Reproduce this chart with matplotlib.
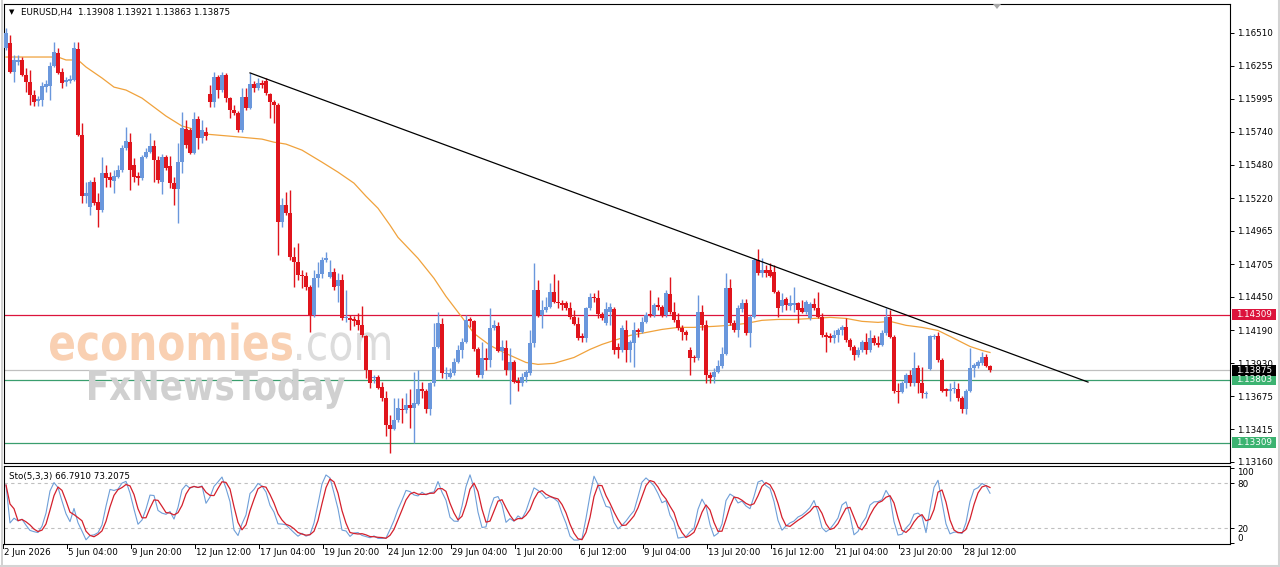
import numpy as np
import pandas as pd
import matplotlib
matplotlib.use("Agg")
import matplotlib.pyplot as plt
import matplotlib.transforms as mtrans
from matplotlib.textpath import TextPath
from matplotlib.patches import PathPatch, Rectangle, Polygon
from matplotlib.font_manager import FontProperties
from matplotlib.lines import Line2D

plt.rcParams['font.family'] = ['DejaVu Sans']

symbol = "EURUSD,H4"
last_ohlc = "1.13908 1.13921 1.13863 1.13875"
sto_label = "Sto(5,3,3) 66.7910 73.2075"

# H4 candles, 2 Jun 12:00 .. 29 Jul 12:00
opens = [
    1.16392, 1.16432, 1.16205, 1.16283, 1.16299, 1.16182, 1.16126, 1.16025, 1.15978, 1.15986,
    1.16087, 1.16095, 1.16252, 1.16354, 1.16205, 1.16126, 1.16134, 1.16142, 1.16385, 1.15712,
    1.15235, 1.15149, 1.15344, 1.15188, 1.15126, 1.15416, 1.15384, 1.15352, 1.15384, 1.15439,
    1.15610, 1.15657, 1.15478, 1.15393, 1.15376, 1.15540, 1.15579, 1.15626, 1.15517, 1.15344,
    1.15540, 1.15470, 1.15337, 1.15290, 1.15501, 1.15759, 1.15751, 1.15572, 1.15838, 1.15689,
    1.15735, 1.16033, 1.15970, 1.16166, 1.16064, 1.16182, 1.16001, 1.15908, 1.15885, 1.15751,
    1.16009, 1.15923, 1.16111, 1.16079, 1.16119, 1.16134, 1.16033, 1.15970, 1.15947, 1.15032,
    1.15165, 1.15103, 1.14758, 1.14719, 1.14618, 1.14610, 1.14523, 1.14305, 1.14594, 1.14626,
    1.14735, 1.14602, 1.14641, 1.14531, 1.14578, 1.14281, 1.14281, 1.14273, 1.14266, 1.14227,
    1.14140, 1.13875, 1.13812, 1.13820, 1.13749, 1.13663, 1.13445, 1.13421, 1.13484, 1.13577,
    1.13562, 1.13601, 1.13585, 1.13616, 1.13726, 1.13718, 1.13577, 1.13773, 1.14054, 1.14235,
    1.13844, 1.13820, 1.13851, 1.13937, 1.14031, 1.14094, 1.14273, 1.14258, 1.14039, 1.13836,
    1.13968, 1.13953, 1.14203, 1.14219, 1.14023, 1.14047, 1.13875, 1.13937, 1.13796, 1.13773,
    1.13820, 1.13851, 1.14086, 1.14500, 1.14305, 1.14344, 1.14367, 1.14484, 1.14406, 1.14398,
    1.14398, 1.14359, 1.14289, 1.14235, 1.14140, 1.14125, 1.14359, 1.14445, 1.14438, 1.14312,
    1.14242, 1.14328, 1.14352, 1.14054, 1.14031, 1.14187, 1.14031, 1.14086, 1.14187, 1.14171,
    1.14250, 1.14312, 1.14305, 1.14383, 1.14367, 1.14305, 1.14469, 1.14328, 1.14266, 1.14203,
    1.14171, 1.14031, 1.13976, 1.13968, 1.14328, 1.14227, 1.13836, 1.13820, 1.13859, 1.13906,
    1.14007, 1.14516, 1.14242, 1.14187, 1.14352, 1.14398, 1.14164, 1.14289, 1.14735, 1.14633,
    1.14657, 1.14657, 1.14641, 1.14484, 1.14375, 1.14430, 1.14375, 1.14383, 1.14398, 1.14359,
    1.14328, 1.14281, 1.14391, 1.14359, 1.14289, 1.14148, 1.14140, 1.14125, 1.14148, 1.14187,
    1.14211, 1.14109, 1.14054, 1.13992, 1.14031, 1.14094, 1.14031, 1.14125, 1.14086, 1.14070,
    1.14164, 1.14289, 1.14132, 1.13718, 1.13703, 1.13773, 1.13836, 1.13773, 1.13890, 1.13773,
    1.13687, 1.13883, 1.14132, 1.14140, 1.13953, 1.13733, 1.13718, 1.13726, 1.13733, 1.13656,
    1.13577, 1.13718, 1.13890, 1.13906, 1.13930, 1.13976, 1.13908,
]
highs = [
    1.16549, 1.16494, 1.16338, 1.16338, 1.16322, 1.16236, 1.16221, 1.16064, 1.16017, 1.16126,
    1.16142, 1.16283, 1.16439, 1.16392, 1.16236, 1.16166, 1.16182, 1.16439, 1.16439, 1.15807,
    1.15344, 1.15360, 1.15384, 1.15259, 1.15540, 1.15478, 1.15423, 1.15439, 1.15478, 1.15634,
    1.15775, 1.15728, 1.15532, 1.15423, 1.15556, 1.15610, 1.15728, 1.15673, 1.15548, 1.15564,
    1.15556, 1.15548, 1.15384, 1.15650, 1.15892, 1.15830, 1.15767, 1.15892, 1.15861, 1.15830,
    1.15775, 1.16103, 1.16205, 1.16182, 1.16205, 1.16198, 1.16009, 1.15947, 1.15900, 1.16079,
    1.16079, 1.16198, 1.16134, 1.16158, 1.16142, 1.16158, 1.16041, 1.15986, 1.15963, 1.15220,
    1.15266, 1.15282, 1.14836, 1.14868, 1.14657, 1.14641, 1.14539, 1.14657, 1.14719, 1.14758,
    1.14797, 1.14735, 1.14672, 1.14633, 1.14626, 1.14500, 1.14305, 1.14297, 1.14320, 1.14375,
    1.14148, 1.13875, 1.13836, 1.13836, 1.13781, 1.13718, 1.13523, 1.13663, 1.13656, 1.13663,
    1.13695, 1.13733, 1.13859, 1.13875, 1.13781, 1.13733, 1.13781, 1.14242, 1.14328, 1.14281,
    1.13898, 1.13890, 1.13968, 1.14070, 1.14125, 1.14305, 1.14289, 1.14266, 1.14054, 1.14094,
    1.14047, 1.14359, 1.14266, 1.14250, 1.14109, 1.14109, 1.14047, 1.13953, 1.13820, 1.13851,
    1.13875, 1.14187, 1.14712, 1.14578, 1.14422, 1.14445, 1.14555, 1.14626, 1.14578, 1.14422,
    1.14414, 1.14406, 1.14344, 1.14289, 1.14164, 1.14367, 1.14477, 1.14477, 1.14500, 1.14328,
    1.14406, 1.14398, 1.14367, 1.14086, 1.14227, 1.14266, 1.14109, 1.14250, 1.14203, 1.14289,
    1.14328, 1.14500, 1.14398, 1.14445, 1.14383, 1.14500, 1.14602, 1.14406, 1.14320, 1.14227,
    1.14187, 1.14054, 1.13992, 1.14461, 1.14383, 1.14266, 1.13859, 1.13890, 1.13953, 1.14054,
    1.14633, 1.14586, 1.14266, 1.14383, 1.14430, 1.14430, 1.14305, 1.14750, 1.14821, 1.14750,
    1.14696, 1.14712, 1.14696, 1.14500, 1.14477, 1.14445, 1.14461, 1.14523, 1.14406, 1.14422,
    1.14422, 1.14406, 1.14438, 1.14484, 1.14320, 1.14171, 1.14164, 1.14187, 1.14203, 1.14227,
    1.14281, 1.14125, 1.14070, 1.14054, 1.14109, 1.14164, 1.14187, 1.14148, 1.14140, 1.14187,
    1.14359, 1.14344, 1.14148, 1.13773, 1.13789, 1.13851, 1.13875, 1.14015, 1.13914, 1.13898,
    1.13718, 1.14148, 1.14156, 1.14171, 1.13968, 1.13741, 1.13773, 1.13796, 1.13773, 1.13679,
    1.13733, 1.14047, 1.13930, 1.13953, 1.14015, 1.14007, 1.13921,
]
lows = [
    1.16377, 1.16198, 1.16126, 1.16260, 1.16174, 1.16048, 1.15947, 1.15939, 1.15939, 1.15939,
    1.16048, 1.15986, 1.16244, 1.16190, 1.16079, 1.16095, 1.16119, 1.16134, 1.15704, 1.15181,
    1.15181, 1.15087, 1.15165, 1.14993, 1.15110, 1.15305, 1.15305, 1.15259, 1.15376, 1.15423,
    1.15595, 1.15282, 1.15344, 1.15321, 1.15360, 1.15532, 1.15572, 1.15344, 1.15337, 1.15251,
    1.15439, 1.15297, 1.15165, 1.15025, 1.15416, 1.15610, 1.15564, 1.15564, 1.15603, 1.15650,
    1.15673, 1.15931, 1.15931, 1.16001, 1.16048, 1.15970, 1.15845, 1.15869, 1.15735, 1.15735,
    1.15908, 1.15916, 1.16048, 1.16064, 1.16079, 1.16025, 1.15845, 1.15807, 1.14774, 1.14993,
    1.15087, 1.14735, 1.14523, 1.14578, 1.14516, 1.14500, 1.14171, 1.14289, 1.14523, 1.14594,
    1.14719, 1.14594, 1.14500, 1.14406, 1.14266, 1.14250, 1.14187, 1.14219, 1.14187, 1.14132,
    1.13812, 1.13741, 1.13773, 1.13733, 1.13640, 1.13366, 1.13233, 1.13413, 1.13476, 1.13461,
    1.13546, 1.13429, 1.13312, 1.13601, 1.13656, 1.13546, 1.13523, 1.13757, 1.14047, 1.13812,
    1.13804, 1.13812, 1.13836, 1.13930, 1.13968, 1.14086, 1.14211, 1.14023, 1.13820, 1.13812,
    1.13875, 1.13898, 1.14187, 1.14015, 1.13953, 1.13836, 1.13616, 1.13773, 1.13718, 1.13757,
    1.13781, 1.13836, 1.14054, 1.14289, 1.14203, 1.14328, 1.14359, 1.14398, 1.14359, 1.14344,
    1.14344, 1.14273, 1.14227, 1.14109, 1.14094, 1.14094, 1.14344, 1.14406, 1.14281, 1.14266,
    1.14227, 1.14227, 1.14007, 1.13968, 1.14015, 1.13937, 1.13937, 1.13898, 1.14132, 1.14164,
    1.14242, 1.14289, 1.14289, 1.14344, 1.14289, 1.14289, 1.14312, 1.14250, 1.14187, 1.14109,
    1.14109, 1.13836, 1.13937, 1.13953, 1.14187, 1.13773, 1.13773, 1.13773, 1.13851, 1.13890,
    1.13992, 1.14227, 1.14171, 1.14132, 1.14328, 1.14148, 1.14054, 1.14281, 1.14618, 1.14602,
    1.14602, 1.14602, 1.14477, 1.14289, 1.14328, 1.14344, 1.14344, 1.14328, 1.14242, 1.14320,
    1.14312, 1.14266, 1.14344, 1.14281, 1.14132, 1.14015, 1.14094, 1.14086, 1.14094, 1.14148,
    1.14094, 1.14031, 1.13953, 1.13976, 1.14015, 1.14007, 1.14015, 1.14070, 1.14054, 1.14062,
    1.14148, 1.14125, 1.13695, 1.13624, 1.13695, 1.13741, 1.13757, 1.13757, 1.13695, 1.13663,
    1.13663, 1.13875, 1.14117, 1.13937, 1.13703, 1.13679, 1.13640, 1.13695, 1.13640, 1.13546,
    1.13538, 1.13703, 1.13820, 1.13890, 1.13914, 1.13898, 1.13863,
]
closes = [
    1.16510, 1.16205, 1.16299, 1.16299, 1.16182, 1.16126, 1.16025, 1.15970, 1.15994, 1.16095,
    1.16111, 1.16252, 1.16361, 1.16198, 1.16119, 1.16142, 1.16151, 1.16392, 1.15712, 1.15235,
    1.15259, 1.15344, 1.15181, 1.15126, 1.15416, 1.15376, 1.15360, 1.15393, 1.15439, 1.15610,
    1.15665, 1.15439, 1.15384, 1.15376, 1.15540, 1.15579, 1.15626, 1.15517, 1.15360, 1.15540,
    1.15454, 1.15337, 1.15290, 1.15501, 1.15767, 1.15634, 1.15572, 1.15838, 1.15689, 1.15751,
    1.15704, 1.15970, 1.16166, 1.16064, 1.16182, 1.16001, 1.15908, 1.15885, 1.15751, 1.16009,
    1.15923, 1.16111, 1.16079, 1.16119, 1.16103, 1.16041, 1.15970, 1.15947, 1.15032, 1.15165,
    1.15103, 1.14758, 1.14719, 1.14618, 1.14610, 1.14523, 1.14305, 1.14594, 1.14626, 1.14735,
    1.14750, 1.14641, 1.14523, 1.14578, 1.14281, 1.14289, 1.14266, 1.14258, 1.14227, 1.14148,
    1.13875, 1.13773, 1.13820, 1.13741, 1.13663, 1.13445, 1.13421, 1.13484, 1.13585, 1.13562,
    1.13601, 1.13585, 1.13624, 1.13726, 1.13718, 1.13577, 1.13773, 1.14054, 1.14242, 1.13851,
    1.13851, 1.13851, 1.13937, 1.14031, 1.14094, 1.14266, 1.14258, 1.14039, 1.13836, 1.13968,
    1.13953, 1.14203, 1.14227, 1.14023, 1.14054, 1.13875, 1.13937, 1.13781, 1.13773, 1.13820,
    1.13859, 1.14086, 1.14500, 1.14305, 1.14344, 1.14367, 1.14484, 1.14406, 1.14398, 1.14383,
    1.14359, 1.14289, 1.14235, 1.14125, 1.14125, 1.14359, 1.14445, 1.14438, 1.14312, 1.14281,
    1.14352, 1.14367, 1.14031, 1.14031, 1.14203, 1.14031, 1.14094, 1.14187, 1.14171, 1.14250,
    1.14305, 1.14305, 1.14383, 1.14367, 1.14305, 1.14477, 1.14328, 1.14266, 1.14203, 1.14171,
    1.14148, 1.13968, 1.13968, 1.14328, 1.14227, 1.13836, 1.13812, 1.13859, 1.13906, 1.14007,
    1.14516, 1.14242, 1.14187, 1.14359, 1.14398, 1.14164, 1.14289, 1.14735, 1.14633, 1.14657,
    1.14633, 1.14610, 1.14484, 1.14359, 1.14422, 1.14383, 1.14398, 1.14398, 1.14344, 1.14328,
    1.14406, 1.14391, 1.14359, 1.14289, 1.14148, 1.14132, 1.14125, 1.14148, 1.14187, 1.14211,
    1.14109, 1.14054, 1.13992, 1.14031, 1.14094, 1.14031, 1.14125, 1.14086, 1.14070, 1.14164,
    1.14289, 1.14132, 1.13718, 1.13703, 1.13773, 1.13836, 1.13773, 1.13890, 1.13773, 1.13695,
    1.13695, 1.14140, 1.14140, 1.13953, 1.13718, 1.13718, 1.13733, 1.13733, 1.13656, 1.13577,
    1.13718, 1.13890, 1.13914, 1.13937, 1.13976, 1.13906, 1.13875,
]

# moving average (orange), sampled along the curve: bar index / value
ma_idx = [0, 13, 15, 18, 20, 24, 27, 30, 34, 37, 40, 44, 46, 50, 56, 64, 67, 70, 74, 79,
          83, 87, 90, 93, 96, 98, 103, 107, 110, 114, 117, 121, 125, 130, 133, 137, 142, 146,
          149, 152, 156, 160, 164, 168, 172, 177, 181, 185, 189, 193, 197, 202, 206, 210, 214,
          218, 221, 225, 229, 233, 237, 241, 244, 246]
ma_val = [1.16322, 1.16322, 1.16299, 1.16299, 1.16244, 1.16158, 1.16087, 1.16064, 1.16001,
          1.15931, 1.15861, 1.15783, 1.15767, 1.15720, 1.15704, 1.15681, 1.15657, 1.15642,
          1.15595, 1.15501, 1.15423, 1.15337, 1.15235, 1.15141, 1.15009, 1.14914, 1.14750,
          1.14594, 1.14453, 1.14289, 1.14164, 1.14070, 1.14007, 1.13937, 1.13922, 1.13930,
          1.13976, 1.14039, 1.14078, 1.14109, 1.14148, 1.14171, 1.14195, 1.14211, 1.14211,
          1.14219, 1.14227, 1.14242, 1.14266, 1.14273, 1.14273, 1.14281, 1.14289, 1.14281,
          1.14258, 1.14250, 1.14258, 1.14227, 1.14211, 1.14187, 1.14125, 1.14062, 1.14031,
          1.14015]

trend_idx = [61, 270.5]
trend_val = [1.16198, 1.13784]

resistance = 1.14309
bid = 1.13875
support1 = 1.13803
support2 = 1.13309

price_ticks = [1.16510, 1.16255, 1.15995, 1.15740, 1.15480, 1.15220, 1.14965, 1.14705,
               1.14450, 1.14190, 1.13930, 1.13675, 1.13415, 1.13160]
time_idx = list(range(0, 241, 16))
time_labels = ["2 Jun 2026", "5 Jun 04:00", "9 Jun 20:00", "12 Jun 12:00", "17 Jun 04:00",
               "19 Jun 20:00", "24 Jun 12:00", "29 Jun 04:00", "1 Jul 20:00", "6 Jul 12:00",
               "9 Jul 04:00", "13 Jul 20:00", "16 Jul 12:00", "21 Jul 04:00", "23 Jul 20:00",
               "28 Jul 12:00"]

BULL = '#6a97dc'
BEAR = '#e0141c'
RED_LINE = '#dc143c'
GREEN_LINE = '#3a9e6e'
GREEN_BOX = '#3cb371'
FS = 6.3

W, H = 1280, 567
fig = plt.figure(figsize=(W / 100, H / 100), dpi=100)


def box(x0, y0, x1, y1):
    return fig.add_axes([x0 / W, 1 - y1 / H, (x1 - x0) / W, (y1 - y0) / H])


ax = box(4, 4, 1230, 463)
sx = box(4, 466, 1230, 544)
for a in (ax, sx):
    a.set_xlim(-0.5, 306)
    for sp in a.spines.values():
        sp.set_linewidth(0.8)
        sp.set_color('black')
    a.set_xticks([])

ax.set_ylim(1.13152, 1.16736)
sx.set_ylim(-1.3, 102.7)

# candles
o = np.array(opens)
h = np.array(highs)
l = np.array(lows)
c = np.array(closes)
x = np.arange(len(c))
col = np.where(c >= o, BULL, BEAR)
ax.vlines(x, l, h, colors=col, lw=1.0, zorder=5)
ax.bar(x, np.maximum(np.abs(c - o), 0.00008), bottom=np.minimum(o, c), width=0.8,
       color=col, lw=0, zorder=6)

# levels, MA, trend line
ax.axhline(resistance, color=RED_LINE, lw=0.9, zorder=2)
ax.axhline(bid, color='#c0c0c0', lw=0.9, zorder=2)
ax.axhline(support1, color=GREEN_LINE, lw=0.9, zorder=2)
ax.axhline(support2, color=GREEN_LINE, lw=0.9, zorder=2)
ax.plot(ma_idx, ma_val, color='#f0a23c', lw=0.9, zorder=4)
ax.plot(trend_idx, trend_val, color='black', lw=0.9, zorder=7)

# right price scale
ax.yaxis.tick_right()
ax.set_yticks(price_ticks)
ax.set_yticklabels([f"{v:.5f}" for v in price_ticks])
ax.tick_params(axis='y', length=3, width=0.7, pad=2, labelsize=FS)

blend = mtrans.blended_transform_factory(fig.transFigure, ax.transData)
hb = 11 * (1.16736 - 1.13152) / 459
for val, fc in [(support2, GREEN_BOX), (support1, GREEN_BOX), (resistance, RED_LINE), (bid, 'black')]:
    ax.add_patch(Rectangle((1232 / W, val - hb / 2), 44 / W, hb, transform=blend, fc=fc,
                           ec='none', clip_on=False, zorder=10))
    ax.text(1236 / W, val, f"{val:.5f}", transform=blend, color='white', fontsize=FS,
            va='center', ha='left', clip_on=False, zorder=11)

# watermark
def stamp(text, x0, x1, y_top, y_base, color, ref, weight='bold'):
    fp = FontProperties(family='DejaVu Sans', weight=weight)
    tp = TextPath((0, 0), text, size=1, prop=fp)
    ext = tp.get_extents()
    hgt = TextPath((0, 0), ref, size=1, prop=fp).get_extents().ymax
    kx = (x1 - x0) / ext.width
    ky = (y_base - y_top) / hgt
    tr = (mtrans.Affine2D().translate(-ext.x0, 0).scale(kx / W, ky / H)
          .translate(x0 / W, 1 - y_base / H) + fig.transFigure)
    ax.add_artist(PathPatch(tp, fc=color, ec='none', transform=tr, zorder=3, clip_on=False))


stamp("economies", 50, 292, 333, 360, '#f9d0b2', 'x')
stamp(".com", 297, 390, 333, 360, '#dcdcdc', 'x', weight='normal')
stamp("FxNewsToday", 89, 345, 370, 400, '#d0d0d0', 'F')

# header
fig.text(9 / W, 1 - 12 / H, '\u25bc', fontsize=5, va='center')
fig.text(21 / W, 1 - 12 / H, f"{symbol}  {last_ohlc}", fontsize=FS, va='center')
fig.patches.append(Polygon([[993 / W, 1 - 4 / H], [1001 / W, 1 - 4 / H], [997 / W, 1 - 9 / H]],
                           closed=True, transform=fig.transFigure, fc='#a8a8a8', ec='none'))

# stochastic (5,3,3) from the candles
df = pd.DataFrame({'h': highs, 'l': lows, 'c': closes})
ll = df['l'].rolling(5, min_periods=1).min()
hh = df['h'].rolling(5, min_periods=1).max()
k = 100 * (df['c'] - ll).rolling(3, min_periods=1).sum() / (hh - ll).rolling(3, min_periods=1).sum()
d = k.rolling(3, min_periods=1).mean()
sx.axhline(80, color='#c0c0c0', lw=0.8, ls=(0, (3, 3)))
sx.axhline(20, color='#c0c0c0', lw=0.8, ls=(0, (3, 3)))
sx.plot(x, k, color='#6f9fd8', lw=0.8, zorder=3)
sx.plot(x, d, color='#d4202c', lw=0.9, zorder=4)
sx.text(9 / W, 1 - 476 / H, sto_label, transform=fig.transFigure, fontsize=FS, va='center')

sx.yaxis.tick_right()
sx.set_yticks([100, 80, 20, 0])
sx.set_yticklabels(['100', '80', '20', '0'])
sx.tick_params(axis='y', length=3, width=0.7, pad=2, labelsize=FS)
tl = sx.get_yticklabels()
tl[0].set_va('top')
tl[3].set_va('bottom')

# time scale
xt = sx.get_xaxis_transform()
for i, lab in zip(time_idx, time_labels):
    sx.plot([i - 0.75, i - 0.75], [0, -0.05], transform=xt, color='black', lw=0.7, clip_on=False)
    sx.text(i - 0.45, -0.105, lab, transform=xt, fontsize=FS, va='center', ha='left', clip_on=False)

# window edges
fig.add_artist(Line2D([1.5 / W] * 2, [0, 1], color='#c8c8c8', lw=1.2))
fig.add_artist(Line2D([1278.5 / W] * 2, [0, 1], color='#d4d4d4', lw=1.5))
fig.add_artist(Line2D([0, 1], [1 - 565.5 / H] * 2, color='#d4d4d4', lw=1.5))

fig.savefig('out.png', dpi=100, facecolor='white')
